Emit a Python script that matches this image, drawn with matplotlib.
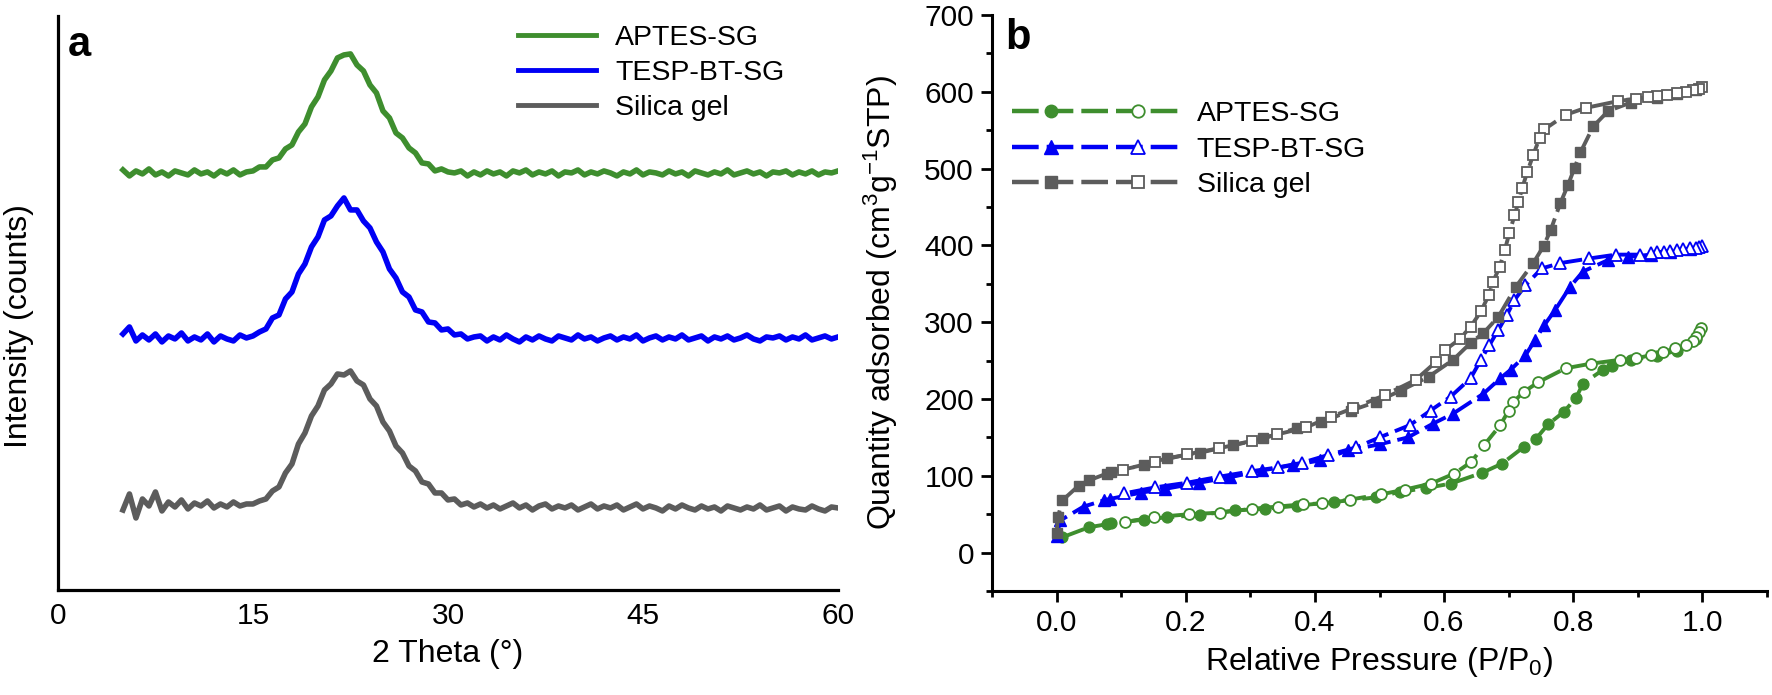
import numpy as np
import matplotlib
matplotlib.use("Agg")
import matplotlib.pyplot as plt
from matplotlib.lines import Line2D
from matplotlib.legend_handler import HandlerBase
from matplotlib.ticker import MultipleLocator

plt.rcParams['font.family'] = ['Liberation Sans', 'DejaVu Sans']
plt.rcParams['mathtext.fontset'] = 'custom'
plt.rcParams['mathtext.rm'] = 'Liberation Sans'
plt.rcParams['mathtext.it'] = 'Liberation Sans:italic'

# ---- panel a : XRD (arbitrary offset units, sampled every 0.5 deg from 5 to 60) ----
xrd_aptes = [
    420, 414, 419, 416, 421, 415, 418, 414, 419, 417,
    415, 420, 416, 418, 414, 419, 416, 420, 415, 418,
    419, 423, 423, 430, 432, 441, 445, 458, 466, 483,
    493, 510, 519, 532, 535, 536, 525, 519, 505, 497,
    479, 472, 457, 452, 442, 437, 427, 426, 419, 421,
    418, 417, 419, 414, 418,
    415, 419, 416, 418, 414, 419, 417, 420, 415, 418,
    416, 419, 414, 418, 417, 420, 415, 418, 416, 419,
    417, 414, 418, 416, 420, 415, 418, 417, 415, 419,
    416, 418, 414, 419, 417, 415, 418, 416, 420, 415,
    417, 419, 416, 418, 414, 418, 417, 419, 415, 418,
    416, 419, 415, 418, 417, 419,
]
xrd_tesp = [
    256, 263, 249, 255, 250, 256, 248, 254, 251, 257,
    249, 253, 250, 256, 248, 254, 251, 249, 255, 252,
    254, 258, 261, 272, 275, 291, 298, 316, 326, 343,
    353, 370, 374, 384, 392, 380, 380, 369, 362, 348,
    338, 321, 312, 298, 293, 280, 278, 268, 267, 260,
    261, 255, 256, 251, 253,
    254, 249, 253, 250, 255, 251, 248, 253, 250, 254,
    251, 249, 254, 252, 250, 255, 251, 253, 249, 252,
    254, 250, 253, 251, 255, 249, 252, 254, 250, 253,
    251, 255, 250, 252, 254, 249, 253, 251, 254, 250,
    252, 255, 251, 249, 253, 252, 254, 250, 253, 251,
    255, 250, 252, 254, 251, 253,
]
xrd_silica = [
    80, 96, 72, 91, 84, 98, 79, 88, 83, 90,
    81, 87, 84, 89, 82, 86, 83, 88, 84, 86,
    86, 89, 91, 99, 103, 117, 126, 146, 157, 174,
    184, 200, 206, 216, 215, 219, 209, 205, 191, 184,
    168, 159, 144, 137, 124, 119, 108, 106, 97, 97,
    90, 91, 85, 87, 83,
    86, 82, 85, 81, 84, 87, 82, 85, 80, 84,
    86, 81, 84, 82, 85, 80, 83, 86, 81, 84,
    82, 85, 80, 83, 86, 81, 84, 82, 79, 84,
    81, 85, 82, 80, 84, 81, 83, 79, 84, 82,
    80, 83, 81, 85, 80, 82, 84, 79, 83, 81,
    80, 84, 81, 79, 83, 82,
]

# ---- panel b : N2 isotherms ----
sg_ads_p = [0.0, 0.002, 0.009, 0.034, 0.05, 0.078, 0.085, 0.135, 0.171, 0.222, 0.273, 0.32,
            0.372, 0.41, 0.456, 0.494, 0.533, 0.576, 0.614, 0.641, 0.661, 0.684, 0.711, 0.738,
            0.754, 0.765, 0.78, 0.792, 0.802, 0.811, 0.831, 0.854, 0.889, 0.93, 0.96, 0.99]
sg_ads_q = [25, 46, 68, 87, 94, 103, 105, 114, 123, 130, 140, 149,
            162, 170, 185, 196, 211, 229, 251, 273, 286, 307, 346, 377,
            399, 420, 455, 479, 501, 521, 555, 575, 586, 592, 597, 603]
sg_des_p = [1.0, 0.995, 0.985, 0.975, 0.96, 0.945, 0.93, 0.915, 0.897, 0.87, 0.819, 0.788,
            0.755, 0.748, 0.738, 0.729, 0.721, 0.715, 0.709, 0.701, 0.694, 0.686, 0.676, 0.669,
            0.657, 0.641, 0.624, 0.602, 0.587, 0.556, 0.508, 0.459, 0.425, 0.386, 0.342, 0.302,
            0.252, 0.202, 0.152, 0.103]
sg_des_q = [606, 604, 602, 600, 598, 596, 594, 593, 591, 588, 579, 570,
            551, 540, 518, 496, 475, 456, 439, 416, 394, 372, 353, 335,
            314, 294, 278, 264, 248, 225, 205, 188, 177, 163, 154, 145,
            136, 128, 118, 108]

bt_ads_p = [0.0, 0.006, 0.042, 0.073, 0.083, 0.13, 0.168, 0.22, 0.268, 0.318, 0.366, 0.408,
            0.451, 0.5, 0.544, 0.583, 0.614, 0.661, 0.687, 0.703, 0.726, 0.741, 0.755, 0.772,
            0.795, 0.815, 0.854, 0.885, 0.92, 0.95, 0.98]
bt_ads_q = [22, 42, 60, 68, 70, 78, 83, 91, 98, 107, 114, 120,
            133, 141, 150, 168, 181, 207, 227, 238, 257, 277, 296, 316,
            346, 366, 381, 385, 388, 391, 395]
bt_des_p = [1.0, 0.995, 0.99, 0.98, 0.97, 0.96, 0.95, 0.94, 0.93, 0.92, 0.904, 0.866,
            0.825, 0.78, 0.751, 0.726, 0.709, 0.697, 0.684, 0.67, 0.657, 0.641, 0.61, 0.579,
            0.547, 0.5, 0.464, 0.42, 0.38, 0.343, 0.302, 0.253, 0.202, 0.153, 0.104]
bt_des_q = [399, 398, 397, 396, 395, 394, 393, 392, 391, 390, 388, 388,
            383, 377, 370, 348, 329, 309, 290, 270, 251, 227, 203, 185,
            166, 150, 137, 127, 117, 111, 106, 99, 91, 85, 77]

ap_ads_p = [0.009, 0.05, 0.078, 0.085, 0.135, 0.171, 0.222, 0.276, 0.322, 0.372, 0.43, 0.495,
            0.531, 0.572, 0.611, 0.659, 0.69, 0.724, 0.742, 0.761, 0.785, 0.804, 0.815, 0.846,
            0.86, 0.889, 0.93, 0.96, 0.99]
ap_ads_q = [20, 33, 37, 38, 43, 46, 49, 55, 57, 61, 66, 72,
            79, 84, 90, 104, 116, 138, 148, 167, 183, 201, 220, 238,
            243, 251, 256, 263, 278]
ap_des_p = [0.998, 0.995, 0.99, 0.985, 0.974, 0.958, 0.939, 0.92, 0.897, 0.872, 0.827, 0.788,
            0.746, 0.723, 0.707, 0.7, 0.687, 0.662, 0.642, 0.616, 0.58, 0.539, 0.503, 0.454,
            0.411, 0.382, 0.343, 0.302, 0.253, 0.205, 0.151, 0.106]
ap_des_q = [292, 287, 281, 276, 270, 266, 261, 257, 253, 251, 246, 240,
            222, 209, 196, 185, 166, 140, 118, 103, 90, 82, 76, 69,
            64, 63, 60, 57, 52, 50, 46, 40]

labels = ['APTES-SG', 'TESP-BT-SG', 'Silica gel']
GREEN = '#3e8e2e'
BLUE = '#0000f5'
GRAY = '#5c5c5c'


class HandlerIsotherm(HandlerBase):
    # dashed line with a filled marker on the left and an open one on the right
    def create_artists(self, legend, orig_handle, xdescent, ydescent,
                       width, height, fontsize, trans):
        filled, hollow = orig_handle
        x0 = -xdescent
        y0 = height / 2 - ydescent
        base = Line2D([x0, x0 + width], [y0, y0])
        base.update_from(filled)
        base.set_marker('None')
        base.set_linewidth(3.2)
        m1 = Line2D([x0 + 0.23 * width], [y0])
        m1.update_from(filled)
        m1.set_linestyle('None')
        m1.set_markersize(filled.get_markersize() * 1.15)
        m2 = Line2D([x0 + 0.75 * width], [y0])
        m2.update_from(hollow)
        m2.set_linestyle('None')
        m2.set_markersize(hollow.get_markersize() * 1.15)
        for art in (base, m1, m2):
            art.set_transform(trans)
        return [base, m1, m2]


fig = plt.figure(figsize=(17.72, 6.95), dpi=100)

# ---------------- panel a ----------------
ax1 = fig.add_axes([0.0327, 0.1511, 0.4402, 0.826])
two_theta = np.linspace(5, 60, len(xrd_aptes))
h1, = ax1.plot(two_theta, xrd_aptes, color=GREEN, lw=4.0)
h2, = ax1.plot(two_theta, xrd_tesp, color=BLUE, lw=4.0)
h3, = ax1.plot(two_theta, xrd_silica, color=GRAY, lw=4.0)
ax1.set_xlim(0, 60)
ax1.set_ylim(0, 574)
ax1.set_xticks([0, 15, 30, 45, 60])
ax1.set_yticks([])
ax1.tick_params(axis='x', length=0, pad=9, labelsize=21.5)
for s in ('top', 'right'):
    ax1.spines[s].set_visible(False)
for s in ('left', 'bottom'):
    ax1.spines[s].set_linewidth(2.3)
ax1.set_xlabel('2 Theta (°)', fontsize=23, labelpad=6)
ax1.set_ylabel('Intensity (counts)', fontsize=23)
ax1.yaxis.set_label_coords(-0.031, 0.46)
ax1.text(0.012, 0.985, 'a', transform=ax1.transAxes, fontsize=30,
         fontweight='bold', va='top', ha='left')
leg1 = ax1.legend([h1, h2, h3], labels, loc='upper left', bbox_to_anchor=(0.59, 0.985),
                  frameon=False, fontsize=20.5, handlelength=2.75, handletextpad=0.65,
                  labelspacing=0.32, borderpad=0, borderaxespad=0)
for ln in leg1.get_lines():
    ln.set_linewidth(3.5)

# ---------------- panel b ----------------
ax2 = fig.add_axes([0.5598, 0.1496, 0.4374, 0.8288])
series = [
    (ap_ads_p, ap_ads_q, ap_des_p, ap_des_q, GREEN, 'o', 7.8),
    (bt_ads_p, bt_ads_q, bt_des_p, bt_des_q, BLUE, '^', 8.8),
    (sg_ads_p, sg_ads_q, sg_des_p, sg_des_q, GRAY, 's', 7.5),
]
handles = []
for ads_p, ads_q, des_p, des_q, col, mk, ms in series:
    la, = ax2.plot(ads_p, ads_q, color=col, lw=2.8, dashes=(6, 1.8),
                   marker=mk, ms=ms, mfc=col, mec=col)
    ld, = ax2.plot(des_p, des_q, color=col, lw=2.8, dashes=(6, 1.8),
                   marker=mk, ms=ms, mfc='white', mec=col, mew=1.3)
    handles.append((la, ld))

ax2.set_xlim(-0.1, 1.1)
ax2.set_ylim(-50, 700)
ax2.xaxis.set_major_locator(MultipleLocator(0.2))
ax2.xaxis.set_minor_locator(MultipleLocator(0.1))
ax2.yaxis.set_major_locator(MultipleLocator(100))
ax2.yaxis.set_minor_locator(MultipleLocator(50))
ax2.set_xticks([0.0, 0.2, 0.4, 0.6, 0.8, 1.0])
ax2.set_xticklabels(['0.0', '0.2', '0.4', '0.6', '0.8', '1.0'])
ax2.set_yticks([0, 100, 200, 300, 400, 500, 600, 700])
ax2.tick_params(which='major', direction='out', length=8, width=2, labelsize=21.5, pad=5)
ax2.tick_params(which='minor', direction='out', length=4.5, width=2)
for s in ('top', 'right'):
    ax2.spines[s].set_visible(False)
for s in ('left', 'bottom'):
    ax2.spines[s].set_linewidth(2.2)
ax2.set_xlabel('Relative Pressure (P/P$_0$)', fontsize=23, labelpad=6)
ax2.set_ylabel('Quantity adsorbed (cm$^3$g$^{-1}$STP)', fontsize=23)
ax2.yaxis.set_label_coords(-0.119, 0.5)
ax2.text(0.017, 0.995, 'b', transform=ax2.transAxes, fontsize=30,
         fontweight='bold', va='top', ha='left')
ax2.legend(handles, labels, handler_map={tuple: HandlerIsotherm()},
           loc='upper left', bbox_to_anchor=(0.026, 0.85), frameon=False,
           fontsize=20.5, handlelength=5.9, handletextpad=0.58, labelspacing=0.32,
           borderpad=0, borderaxespad=0)

fig.savefig('out.png', dpi=100)
